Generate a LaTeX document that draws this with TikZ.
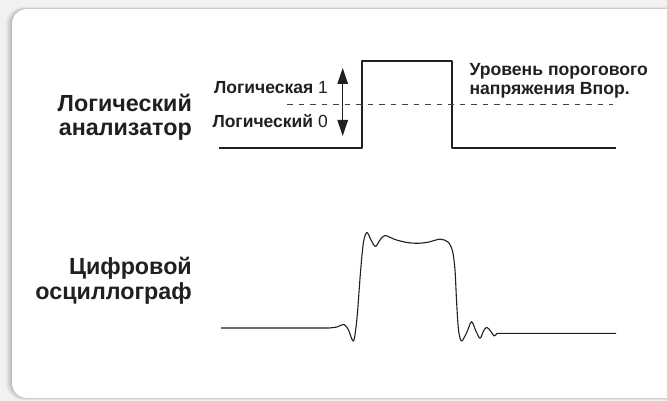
\documentclass[tikz,border=0pt]{standalone}
\usepackage{fontspec}
\setmainfont{Liberation Sans}
\usetikzlibrary{arrows.meta}
\definecolor{ink}{HTML}{231F20}
\definecolor{pagegray}{HTML}{F1F1F1}
\tikzset{
  signal/.style={draw=ink, line width=1.3pt, line join=round},
  threshold/.style={draw=ink!85, line width=0.9pt, dash pattern=on 5.5pt off 6pt},
  biglabel/.style={inner sep=0pt, anchor=base east, text=ink,
    font=\fontsize{23.3}{25}\selectfont\bfseries},
  smalllabel/.style={inner sep=0pt, text=ink,
    font=\fontsize{17.5}{19}\selectfont},
  levelarrow/.style={draw=ink, line width=1.1pt,
    arrows={Triangle[length=16pt,width=10.5pt]-Triangle[length=16pt,width=10.5pt]}}
}
\begin{document}
\begin{tikzpicture}[x=1pt, y=-1pt]
  \useasboundingbox (0,0) rectangle (667,401);
  % page background and card with a soft shadow
  \fill[pagegray] (0,0) rectangle (667,401);
  \foreach \d/\o in {6/0.05,4/0.07,2/0.09}{
    \fill[black, opacity=\o, rounded corners=17pt]
      (12-\d,9-\d*0.3) rectangle (690,398+\d*0.3);
  }
  \fill[white, rounded corners=15pt] (12,9) rectangle (690,398);

  % ---- logic analyser trace ----
  \coordinate (la0) at (219,148);
  \coordinate (la1) at (362,148);
  \coordinate (la2) at (362,61);
  \coordinate (la3) at (452,61);
  \coordinate (la4) at (452,148);
  \coordinate (la5) at (616,148);
  \draw[signal] (la0) -- (la1) -- (la2) -- (la3) -- (la4) -- (la5);

  % threshold level
  \coordinate (th0) at (287,104.3);
  \coordinate (th1) at (613,104.3);
  \draw[threshold] (th0) -- (th1);

  % logic 1 / logic 0 arrow
  \coordinate (arrTop) at (342.7,68);
  \coordinate (arrBot) at (342.7,136);
  \draw[levelarrow] (arrBot) -- (arrTop);

  \node[smalllabel, anchor=base east] (one) at (328,93.3) {\textbf{Логическая} 1};
  \node[smalllabel, anchor=base east] (zero) at (328,127.7) {\textbf{Логический} 0};

  \node[smalllabel, anchor=base west, font=\fontsize{17.6}{19}\selectfont\bfseries]
    (thr1) at (469.3,76) {Уровень порогового};
  \node[smalllabel, anchor=base west, font=\fontsize{17.6}{19}\selectfont\bfseries]
    (thr2) at (469.3,95) {напряжения Впор.};

  % ---- side captions ----
  \node[biglabel] (la-a) at (192,111.7) {Логический};
  \node[biglabel] (la-b) at (192,136) {анализатор};
  \node[biglabel] (os-a) at (192,274) {Цифровой};
  \node[biglabel] (os-b) at (192,299.3) {осциллограф};

  % ---- oscilloscope trace ----
  \coordinate (os0) at (221,328);
  \coordinate (os1) at (329,328);
  \coordinate (os2) at (497,333.3);
  \coordinate (os3) at (616,333.3);
  \draw[signal, line width=1.1pt] (os0) -- (os1)
    plot[smooth, tension=0.5] coordinates {
      (329,328) (337,327) (344,324.5) (348.5,330) (353.5,341)
      (357,318) (360.5,272) (363.5,242) (367,232.5) (371,240)
      (375.5,246.5) (380,240) (385,235.5) (395,239.5) (406,242.3)
      (417,243.3) (428,242.2) (440,239.2) (448,242) (452.5,251)
      (455,270) (456.5,300) (458.5,330) (461.5,341) (466.5,333)
      (471.5,321.7) (475.5,330) (480,338.3) (483.5,331) (486.7,327.3)
      (490.5,331) (494.3,336) (497,333.3)}
    -- (os3);
\end{tikzpicture}
\end{document}
